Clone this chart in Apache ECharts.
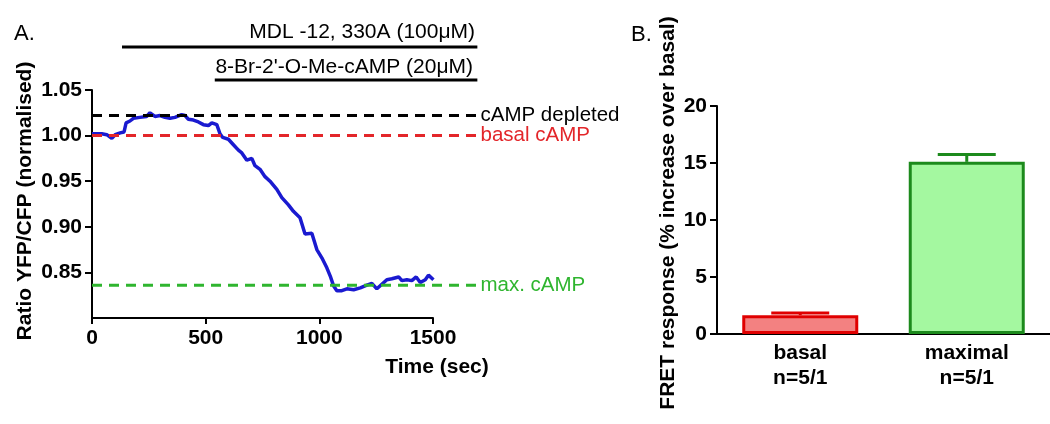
<!DOCTYPE html>
<html>
<head>
<meta charset="utf-8">
<script src="https://cdn.jsdelivr.net/npm/echarts@6/dist/echarts.min.js"></script>
<style>
  html, body { margin: 0; padding: 0; background: #fff; }
  #main { width: 1050px; height: 424px; }
</style>
</head>
<body>
<div id="main"></div>
<script>
// Panel A: FRET ratio trace
const traceTime = [0, 22, 43, 65, 87, 102, 124, 141, 150, 167, 182, 211, 240, 255, 277, 299, 321, 343, 365, 394, 409, 424, 446, 468, 490, 512, 527, 549, 563, 575, 600, 622, 644, 659, 681, 703, 717, 739, 761, 783, 813, 835, 864, 886, 915, 937, 967, 989, 1011, 1033, 1048, 1063, 1077, 1099, 1121, 1151, 1180, 1209, 1231, 1253, 1275, 1297, 1319, 1349, 1363, 1385, 1407, 1426, 1444, 1466, 1480, 1502];
const traceRatio = [1.002, 1.002, 1.002, 1.001, 0.997, 1.001, 1.003, 1.004, 1.014, 1.016, 1.019, 1.020, 1.021, 1.025, 1.021, 1.022, 1.020, 1.019, 1.020, 1.023, 1.022, 1.018, 1.017, 1.015, 1.012, 1.011, 1.014, 1.012, 1.002, 0.998, 0.996, 0.990, 0.984, 0.981, 0.973, 0.975, 0.967, 0.963, 0.955, 0.950, 0.941, 0.932, 0.924, 0.917, 0.910, 0.892, 0.893, 0.875, 0.866, 0.855, 0.846, 0.835, 0.830, 0.830, 0.832, 0.831, 0.833, 0.836, 0.838, 0.832, 0.837, 0.842, 0.843, 0.845, 0.841, 0.842, 0.841, 0.845, 0.839, 0.842, 0.847, 0.842];

// reference levels (dashed lines)
const refNames = ['cAMP depleted', 'basal cAMP', 'max. cAMP'];
const refLevels = [1.022, 1.000, 0.836];
const refColors = ['#000000', '#e3262a', '#2fb52f'];
const refEnd = 1700;

// drug application bars
const drugNames = ['MDL -12, 330A (100\u03bcM)', "8-Br-2'-O-Me-cAMP (20\u03bcM)"];
const drugStart = [132, 540];
const drugEnd = [1695, 1695];

const leftYTicks = [0.85, 0.90, 0.95, 1.00, 1.05];

// Panel B: bar chart
const barCats = ['basal\nn=5/1', 'maximal\nn=5/1'];
const barMeans = [1.65, 15.1];
const barSem = [0.2, 0.65];
const barFill = ['#f38181', '#a4f8a0'];
const barEdge = ['#e00000', '#1c8a1c'];

const FONT = "'Liberation Sans', Arial, sans-serif";

var chartDom = document.getElementById('main');
var myChart = echarts.init(chartDom);
var option;

const tracePoints = traceTime.map((t, i) => [t, traceRatio[i]]);

const refSeries = refNames.map((name, i) => ({
    name: name,
    type: 'line',
    xAxisIndex: 1,
    yAxisIndex: 1,
    data: [[0, refLevels[i]], [refEnd, refLevels[i]]],
    symbol: 'none',
    silent: true,
    clip: false,
    z: 5,
    lineStyle: { color: refColors[i], width: 3, type: [10, 7] },
    endLabel: {
        show: true,
        formatter: name,
        color: refColors[i],
        fontFamily: FONT,
        fontSize: 20.5,
        distance: 2
    }
}));

const drugSeries = drugNames.map((name, i) => ({
    name: name,
    type: 'line',
    xAxisIndex: 2,
    yAxisIndex: 2,
    data: [[drugStart[i], 1 - i], [drugEnd[i], 1 - i]],
    symbol: 'none',
    silent: true,
    clip: false,
    lineStyle: { color: '#000', width: 3 }
}));

option = {
    animation: false,
    textStyle: { fontFamily: FONT },
    grid: [
        { left: 92, top: 90, width: 341, height: 228 },
        { left: 92, top: 90, width: 386.5, height: 228 },
        { left: 92, top: 47, width: 386.5, height: 33 },
        { left: 717, top: 106, width: 342, height: 228 }
    ],
    xAxis: [
        {
            gridIndex: 0, type: 'value', min: 0, max: 1500, interval: 500,
            axisLine: { lineStyle: { color: '#000', width: 2 } },
            axisTick: { length: 6, lineStyle: { color: '#000', width: 2 } },
            axisLabel: {
                color: '#000', fontWeight: 'bold', fontSize: 21, margin: 10,
                formatter: v => String(v)
            },
            splitLine: { show: false }
        },
        { gridIndex: 1, type: 'value', min: 0, max: refEnd, show: false },
        { gridIndex: 2, type: 'value', min: 0, max: refEnd, show: false },
        {
            gridIndex: 3, type: 'category', data: barCats,
            axisLine: { lineStyle: { color: '#000', width: 2 } },
            axisTick: { alignWithLabel: true, length: 6, lineStyle: { color: '#000', width: 2 } },
            axisLabel: { color: '#000', fontWeight: 'bold', fontSize: 21, margin: 7, lineHeight: 25 }
        }
    ],
    yAxis: [
        {
            gridIndex: 0, type: 'value', min: 0.80, max: 1.05,
            name: 'Ratio YFP/CFP (normalised)',
            nameLocation: 'middle', nameGap: 56,
            nameTextStyle: { color: '#000', fontWeight: 'bold', fontSize: 21, padding: [0, 0, 0, 6] },
            axisLine: { show: true, lineStyle: { color: '#000', width: 2 } },
            axisTick: { show: true, length: 7, customValues: leftYTicks, lineStyle: { color: '#000', width: 2 } },
            axisLabel: {
                color: '#000', fontWeight: 'bold', fontSize: 21, margin: 10,
                customValues: leftYTicks,
                formatter: v => v.toFixed(2)
            },
            splitLine: { show: false }
        },
        { gridIndex: 1, type: 'value', min: 0.80, max: 1.05, show: false },
        { gridIndex: 2, type: 'value', min: 0, max: 1, show: false },
        {
            gridIndex: 3, type: 'value', min: 0, max: 20, interval: 5,
            name: 'FRET response (% increase over basal)',
            nameLocation: 'middle', nameGap: 38,
            nameTextStyle: { color: '#000', fontWeight: 'bold', fontSize: 21, padding: [0, 0, 0, 14] },
            axisLine: { show: true, lineStyle: { color: '#000', width: 2 } },
            axisTick: { show: true, length: 7, lineStyle: { color: '#000', width: 2 } },
            axisLabel: { color: '#000', fontWeight: 'bold', fontSize: 21, margin: 10 },
            splitLine: { show: false }
        }
    ],
    graphic: [
        { type: 'text', left: 14, top: 23, style: { text: 'A.', font: '22px ' + FONT, fill: '#000' } },
        { type: 'text', left: 631, top: 24, style: { text: 'B.', font: '22px ' + FONT, fill: '#000' } },
        { type: 'text', x: 475, y: 32, style: { text: drugNames[0], font: '21px ' + FONT, fill: '#000', textAlign: 'right', textVerticalAlign: 'middle' } },
        { type: 'text', x: 473, y: 67, style: { text: drugNames[1], font: '21px ' + FONT, fill: '#000', textAlign: 'right', textVerticalAlign: 'middle' } },
        { type: 'text', x: 437, y: 367, style: { text: 'Time (sec)', font: 'bold 21px ' + FONT, fill: '#000', textAlign: 'center', textVerticalAlign: 'middle' } }
    ],
    series: [
        {
            name: 'ratio',
            type: 'line',
            xAxisIndex: 0,
            yAxisIndex: 0,
            data: tracePoints,
            symbol: 'none',
            clip: false,
            z: 3,
            lineStyle: { color: '#1a1ad0', width: 3.5 }
        },
        ...refSeries,
        ...drugSeries,
        {
            name: 'response',
            type: 'bar',
            xAxisIndex: 3,
            yAxisIndex: 3,
            barWidth: 116,
            data: barMeans.map((v, i) => ({
                value: v,
                itemStyle: { color: barFill[i], borderColor: barEdge[i], borderWidth: 3 }
            }))
        },
        {
            name: 'sem',
            type: 'custom',
            xAxisIndex: 3,
            yAxisIndex: 3,
            z: 4,
            data: barMeans.map((v, i) => [i, v, v + barSem[i]]),
            renderItem: function (params, api) {
                const i = api.value(0);
                const p0 = api.coord([i, api.value(1)]);
                const p1 = api.coord([i, api.value(2)]);
                const half = 29;
                const style = { stroke: barEdge[i], lineWidth: 3 };
                return {
                    type: 'group',
                    children: [
                        { type: 'line', shape: { x1: p0[0], y1: p0[1], x2: p1[0], y2: p1[1] }, style: style },
                        { type: 'line', shape: { x1: p1[0] - half, y1: p1[1], x2: p1[0] + half, y2: p1[1] }, style: style }
                    ]
                };
            }
        }
    ]
};

option && myChart.setOption(option);

window.addEventListener('resize', function () {
    myChart.resize();
});
</script>
</body>
</html>
